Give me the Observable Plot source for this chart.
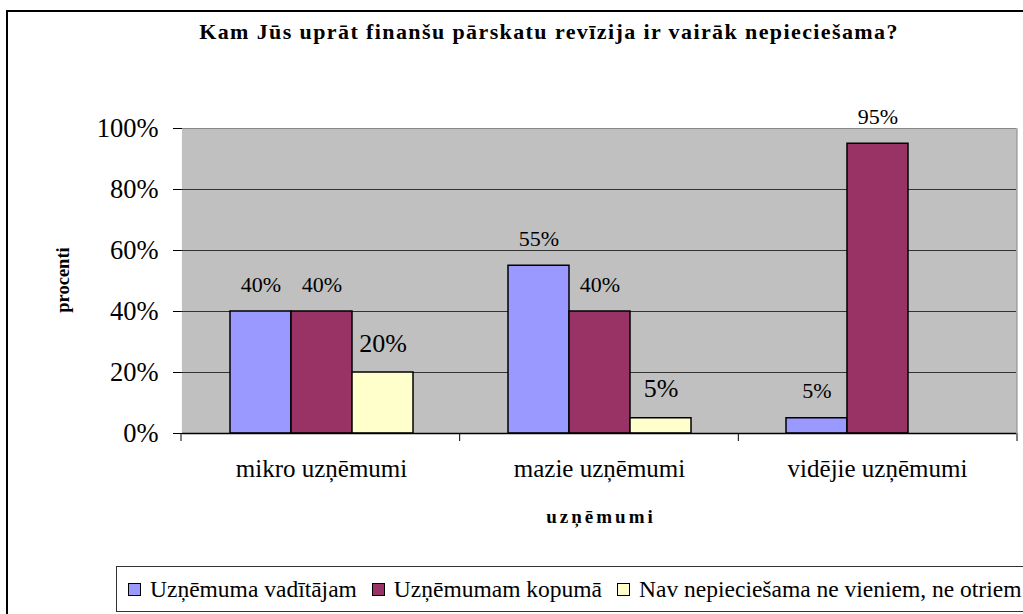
<!DOCTYPE html>
<html><head><meta charset="utf-8">
<script src="https://cdn.jsdelivr.net/npm/d3@7"></script>
<script src="https://cdn.jsdelivr.net/npm/@observablehq/plot@0.6"></script>
<style>
body{margin:0;background:#fff;}
#wrap{position:relative;width:1023px;height:614px;overflow:hidden;font-family:"Liberation Serif","Times New Roman",serif;color:#000;}
#border{position:absolute;left:6px;top:10px;width:1100px;height:700px;border:2px solid #000;box-sizing:border-box;}
#title{position:absolute;left:0;width:1098px;top:19px;text-align:center;font-weight:bold;font-size:22px;letter-spacing:1.4px;white-space:nowrap;}
#ylab{position:absolute;left:63px;top:280px;transform:translate(-50%,-50%) rotate(-90deg);font-weight:bold;font-size:18.5px;white-space:nowrap;}
#xlab{position:absolute;left:601px;top:517px;transform:translate(-50%,-50%);font-weight:bold;font-size:19px;letter-spacing:3px;white-space:nowrap;}
#legend{position:absolute;left:116px;top:566px;width:1000px;height:46px;border:1.5px solid #333;box-sizing:border-box;display:flex;align-items:center;padding-left:11px;font-size:23.5px;white-space:nowrap;}
#legend .sw{display:inline-block;width:11px;height:11px;border:1.5px solid #000;margin-right:9px;}
#legend .it{display:flex;align-items:center;margin-right:15px;}
#chart{position:absolute;left:0;top:0;}
svg g[aria-label^="y-axis"] text{font-size:26.5px;}
svg g[aria-label^="fx-axis"] text{font-size:25px;}
</style>
</head><body>
<div id="wrap">
<div id="border"></div>
<div id="title"></div>
<div id="chart"></div>
<div id="ylab"></div>
<div id="xlab"></div>
<div id="legend"></div>
</div>
<script>
const chartTitle = "Kam Jūs uprāt finanšu pārskatu revīzija ir vairāk nepieciešama?";
const yLabel = "procenti";
const xLabel = "uzņēmumi";
const categories = ["mikro uzņēmumi", "mazie uzņēmumi", "vidējie uzņēmumi"];
const seriesNames = ["Uzņēmuma vadītājam", "Uzņēmumam kopumā", "Nav nepieciešama ne vieniem, ne otriem"];
const vaditajam = [0.40, 0.55, 0.05];
const kopuma = [0.40, 0.40, 0.95];
const nav = [0.20, 0.05, null];
const yTicks = [0, 0.2, 0.4, 0.6, 0.8, 1];
const colors = ["#9999FF", "#993366", "#FFFFCC"];

const seriesValues = [vaditajam, kopuma, nav];
const rows = categories.flatMap((c, i) =>
  seriesNames.map((s, j) => ({category: c, series: s, value: seriesValues[j][i]}))
).filter(d => d.value != null);

document.getElementById("title").textContent = chartTitle;
document.getElementById("ylab").textContent = yLabel;
document.getElementById("xlab").textContent = xLabel;
const leg = document.getElementById("legend");
seriesNames.forEach((s, j) => {
  const it = document.createElement("span"); it.className = "it";
  const sw = document.createElement("span"); sw.className = "sw"; sw.style.background = colors[j];
  const tx = document.createElement("span"); tx.textContent = s;
  it.appendChild(sw); it.appendChild(tx); leg.appendChild(it);
});

const pct = d3.format(".0%");
const plot = Plot.plot({
  width: 1023, height: 550,
  marginTop: 128, marginLeft: 181, marginRight: 6, marginBottom: 117,
  style: {fontFamily: "'Liberation Serif','Times New Roman',serif", fontSize: "24px", color: "#000", background: "transparent", overflow: "visible"},
  facet: {data: rows, x: "category"},
  fx: {domain: categories, padding: 0, label: null, axis: "bottom", tickSize: 0, tickPadding: 26},
  x: {domain: seriesNames, paddingInner: 0, paddingOuter: 0.75, axis: null},
  y: {domain: [0, 1], ticks: yTicks, tickFormat: pct, tickSize: 9, tickPadding: 15, label: null, line: true},
  color: {domain: seriesNames, range: colors},
  marks: [
    Plot.frame({fill: "#C0C0C0", stroke: null, insetLeft: -0.6, insetRight: -0.6}),
    Plot.ruleY(yTicks.slice(1, -1), {stroke: "#333", strokeWidth: 1.2}),
    Plot.ruleY([1], {stroke: "#888", strokeWidth: 1}),
    Plot.barY(rows, {x: "series", y: "value", fill: "series", stroke: "#000", strokeWidth: 1.5}),
    Plot.ruleY([0], {stroke: "#000", strokeWidth: 1.5}),
    Plot.text(rows, {filter: d => d.series !== seriesNames[2], x: "series", y: "value", text: d => pct(d.value),
      lineAnchor: "bottom", dy: -20, fontSize: 22, fill: "#000"}),
    Plot.text(rows, {filter: d => d.series === seriesNames[2], x: "series", y: "value", text: d => pct(d.value),
      lineAnchor: "bottom", dy: -21, fontSize: 26, fill: "#000"})
  ]
});
document.getElementById("chart").appendChild(plot);

// category boundary ticks and right border, from the plot's own scales
const fxS = plot.scale("fx"), yS = plot.scale("y");
const fxBand = d3.scaleBand(fxS.domain, fxS.range).padding(0);
const yApply = v => yS.apply ? yS.apply(v) : d3.scaleLinear(yS.domain, yS.range)(v);
const edges = categories.map(c => fxBand(c)).concat([fxBand(categories[categories.length - 1]) + fxBand.bandwidth()]);
const svg = d3.select(plot);
const g = svg.append("g").attr("aria-label", "category boundaries");
g.selectAll("line").data(edges).join("line")
  .attr("x1", d => d).attr("x2", d => d)
  .attr("y1", yApply(0)).attr("y2", yApply(0) + 8)
  .attr("stroke", "#000").attr("stroke-width", 1);
g.append("line")
  .attr("x1", edges[edges.length - 1]).attr("x2", edges[edges.length - 1])
  .attr("y1", yApply(1)).attr("y2", yApply(0))
  .attr("stroke", "#888").attr("stroke-width", 1);
</script>
</body></html>
